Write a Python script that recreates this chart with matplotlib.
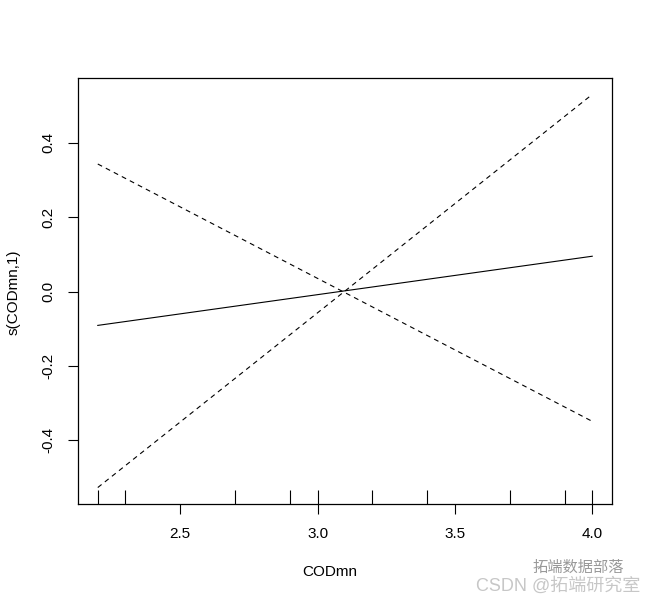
import matplotlib
matplotlib.use("Agg")
import matplotlib.pyplot as plt
import matplotlib.transforms as mtransforms

plt.rcParams['font.family'] = ['Liberation Sans', 'Noto Sans CJK SC', 'DejaVu Sans']
plt.rcParams['lines.scale_dashes'] = False

# Data
x_ends = [2.2, 4.0]
fit = [-0.091, 0.095]
band_a = [0.343, -0.349]
band_b = [-0.527, 0.530]
rug_x = [2.2, 2.3, 2.7, 2.9, 3.0, 3.2, 3.4, 3.7, 3.9, 4.0]
xticks = [2.5, 3.0, 3.5, 4.0]
xtick_labels = ["2.5", "3.0", "3.5", "4.0"]
yticks = [-0.4, -0.2, 0.0, 0.2, 0.4]
ytick_labels = ["-0.4", "-0.2", "0.0", "0.2", "0.4"]

fig = plt.figure(figsize=(6.53, 6.02), dpi=100)
ax = fig.add_axes([78/653, 1-504/602, (612-78)/653, (504-78)/602])

ax.plot(x_ends, fit, color='black', lw=0.8)
ax.plot(x_ends, band_a, color='black', lw=0.8, dashes=(3.5, 3.0))
ax.plot(x_ends, band_b, color='black', lw=0.8, dashes=(3.5, 3.0))

trans = mtransforms.blended_transform_factory(ax.transData, ax.transAxes)
ax.vlines(rug_x, 0, 0.034, transform=trans, color='black', lw=0.8)

xr = x_ends[1] - x_ends[0]
ax.set_xlim(x_ends[0] - 0.04*xr, x_ends[1] + 0.04*xr)
ymin, ymax = min(band_b + band_a), max(band_b + band_a)
yr = ymax - ymin
ax.set_ylim(ymin - 0.04*yr - 0.002, ymax + 0.04*yr + 0.002)

ax.set_xticks(xticks)
ax.set_xticklabels(xtick_labels, fontsize=11)
ax.set_yticks(yticks)
ax.set_yticklabels(ytick_labels, fontsize=11, rotation=90, va='center')
ax.tick_params(direction='out', length=7.5, width=0.8, pad=9, colors='black')
for s in ax.spines.values():
    s.set_linewidth(0.9)

fig.text(330/653, 1-572/602, "CODmn", ha='center', va='center', fontsize=11)
fig.text(14/653, 1-292/602, "s(CODmn,1)", ha='center', va='center', fontsize=11, rotation=90)

# watermark
fig.text(578/653, 1-568/602, "拓端数据部落", ha='center', va='center', fontsize=11,
         color='#555555', alpha=0.6)
fig.text(640/653, 1-586/602, "CSDN @拓端研究室", ha='right', va='center', fontsize=13,
         color='#999999', alpha=0.55)

fig.savefig("out.png", dpi=100)
